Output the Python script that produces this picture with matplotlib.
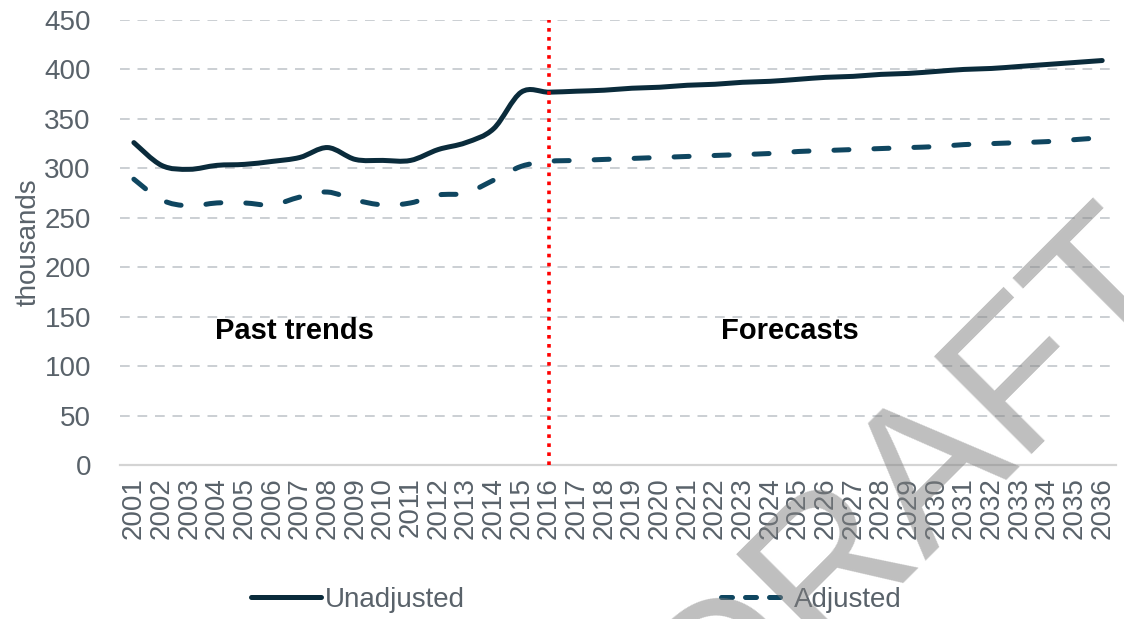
import numpy as np
import matplotlib
matplotlib.use("Agg")
import matplotlib.pyplot as plt
from matplotlib.path import Path
from matplotlib.patches import PathPatch
from matplotlib.lines import Line2D

plt.rcParams['font.family'] = ['Liberation Sans Narrow', 'Liberation Sans', 'DejaVu Sans']

# data (thousands)
years = list(range(2001, 2037))
unadjusted = [326, 303, 299, 303, 304, 307, 311, 321, 309, 308, 308, 319, 326, 340, 377,
              377, 378, 379, 381, 382, 384, 385, 387, 388, 390, 392, 393, 395, 396, 398,
              400, 401, 403, 405, 407, 409]
adjusted = [289, 268, 262, 265, 265, 263, 271, 276, 268, 263, 265, 273, 275, 288, 302,
            307, 308, 309, 310, 311, 312, 313, 314, 315, 317, 318, 319, 320, 321, 322,
            324, 325, 326, 327, 329, 331]
split_year = 2016
yticks = list(range(0, 451, 50))

c_unadj = '#0a2b3b'
c_adj = '#0f4660'
c_text = '#59626a'
c_grid = '#cbcfd3'
dash_adj = (0, (3.0, 5.0))


def smooth_path(xs, ys):
    # Catmull-Rom curve through the points, as cubic bezier segments
    p = np.column_stack([xs, ys]).astype(float)
    n = len(p)
    verts = [p[0]]
    codes = [Path.MOVETO]
    for i in range(n - 1):
        p0 = p[i - 1] if i > 0 else p[i]
        p3 = p[i + 2] if i + 2 < n else p[i + 1]
        c1 = p[i] + (p[i + 1] - p0) / 6.0
        c2 = p[i + 1] - (p3 - p[i]) / 6.0
        verts += [c1, c2, p[i + 1]]
        codes += [Path.CURVE4] * 3
    return Path(verts, codes)


fig = plt.figure(figsize=(11.24, 6.19), dpi=100)
ax = fig.add_axes([0.1068, 0.2488, 0.8861, 0.7189])

ax.add_patch(PathPatch(smooth_path(years, unadjusted), fill=False, edgecolor=c_unadj,
                       lw=3.6, capstyle='round', joinstyle='round', zorder=3))
ax.add_patch(PathPatch(smooth_path(years, adjusted), fill=False, edgecolor=c_adj,
                       lw=3.6, linestyle=dash_adj, capstyle='round', zorder=3))

ax.plot([split_year, split_year], [0, 450], color='red', lw=2.6, linestyle=(0, (1, 1.5)), zorder=4)

ax.set_xlim(2000.5, 2036.5)
ax.set_ylim(0, 450)
ax.set_yticks(yticks)
ax.set_xticks(years)
ax.set_xticklabels([str(y) for y in years], rotation=90)
ax.tick_params(axis='both', length=0, labelsize=20, colors=c_text)
ax.tick_params(axis='y', pad=21)
ax.tick_params(axis='x', pad=9)
ax.yaxis.grid(True, color=c_grid, lw=1.4, linestyle=(0, (5, 4)))
ax.set_axisbelow(True)
for s in ['top', 'right', 'left']:
    ax.spines[s].set_visible(False)
ax.spines['bottom'].set_color('#d4d4d4')
ax.spines['bottom'].set_linewidth(1.6)
ax.set_ylabel('thousands', fontsize=20, color=c_text, labelpad=2)

ax.text(2006.8, 136, 'Past trends', fontsize=21, fontweight='bold', ha='center', va='center',
        family=['Liberation Sans', 'DejaVu Sans'])
ax.text(2024.7, 135, 'Forecasts', fontsize=21, fontweight='bold', ha='center', va='center',
        family=['Liberation Sans', 'DejaVu Sans'])

handles = [Line2D([], [], color=c_unadj, lw=3.6, solid_capstyle='round'),
           Line2D([], [], color=c_adj, lw=3.6, linestyle=(0, (2.2, 2.6)), dash_capstyle='round')]
fig.legend(handles, ['Unadjusted', 'Adjusted'], loc='center', bbox_to_anchor=(0.513, 0.031),
           ncol=2, frameon=False, fontsize=20, labelcolor=c_text, handlelength=2.5,
           handletextpad=0.15, columnspacing=9.2)

# watermark
fig.text(0.815, 0.225, 'DRAFT', fontsize=145, color='#808080', alpha=0.5, rotation=45,
         ha='center', va='center', family=['Liberation Sans', 'DejaVu Sans'], zorder=10)

fig.savefig('out.png', dpi=100)
